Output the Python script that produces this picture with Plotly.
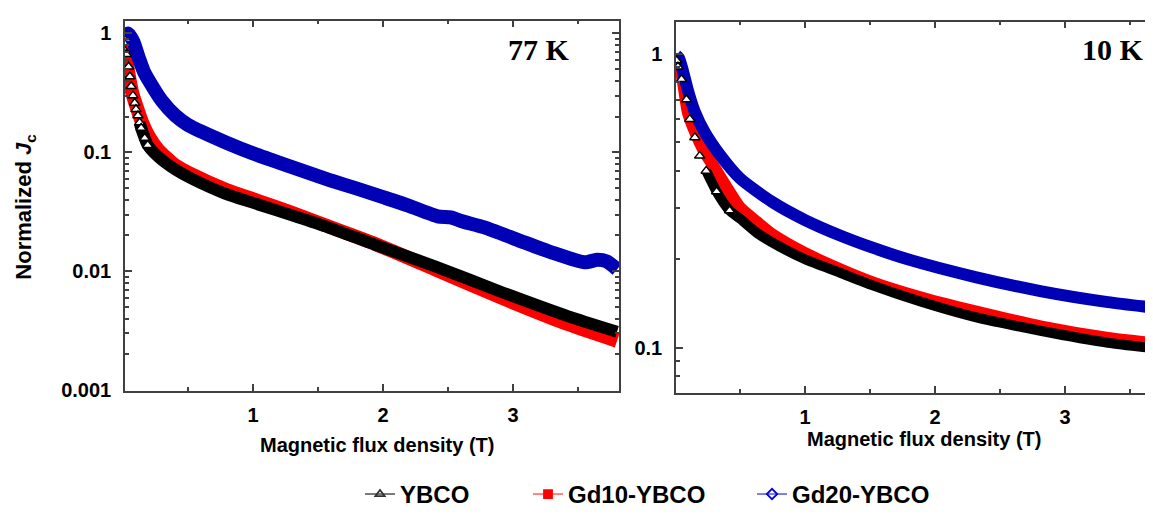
import plotly.graph_objects as go

# ---------------- data ----------------
# 77 K panel
x77_ybco = [0.012, 0.025, 0.043, 0.053, 0.063, 0.077, 0.09, 0.10, 0.115, 0.128, 0.14, 0.167, 0.19,
            0.27, 0.4, 0.53, 0.785, 1.04, 1.3, 1.55, 1.94, 2.4, 2.91, 3.42, 3.8]
jc77_ybco = [0.72, 0.67, 0.525, 0.435, 0.36, 0.30, 0.26, 0.23, 0.204, 0.178, 0.16, 0.132, 0.115,
             0.092, 0.072, 0.06, 0.045, 0.0365, 0.0295, 0.024, 0.0167, 0.011, 0.0067, 0.0042, 0.0031]

x77_gd10 = [0.012, 0.03, 0.05, 0.07, 0.1, 0.15, 0.2, 0.27, 0.4, 0.53, 0.8, 1.04, 1.3, 1.55, 1.94,
            2.4, 2.91, 3.42, 3.8]
jc77_gd10 = [0.8, 0.55, 0.41, 0.32, 0.25, 0.175, 0.135, 0.105, 0.078, 0.065, 0.048, 0.039, 0.031,
             0.0245, 0.017, 0.0104, 0.006, 0.0036, 0.0026]

x77_gd20 = [0.015, 0.04, 0.08, 0.12, 0.16, 0.2, 0.3, 0.4, 0.5, 0.6, 0.8, 1.0, 1.2, 1.4, 1.6, 1.8,
            2.0, 2.2, 2.42, 2.52, 2.6, 2.78, 3.04, 3.29, 3.55, 3.65, 3.72, 3.8]
jc77_gd20 = [0.93, 1.0, 0.85, 0.63, 0.48, 0.4, 0.27, 0.205, 0.17, 0.15, 0.12, 0.098, 0.082,
             0.069, 0.058, 0.0495, 0.042, 0.0355, 0.029, 0.0284, 0.0265, 0.0234, 0.0183, 0.0145,
             0.0119, 0.0125, 0.0121, 0.0104]

# 10 K panel
x10_ybco = [0.012, 0.023, 0.05, 0.088, 0.114, 0.153, 0.19, 0.24, 0.32, 0.42, 0.5, 0.63, 0.75, 1.0,
            1.27, 1.52, 1.9, 2.31, 2.82, 3.33, 3.74]
jc10_ybco = [0.95, 0.905, 0.82, 0.70, 0.60, 0.52, 0.45, 0.40, 0.34, 0.293, 0.275, 0.246, 0.228, 0.20,
             0.18, 0.163, 0.143, 0.127, 0.114, 0.104, 0.099]

x10_gd10 = [0.01, 0.03, 0.06, 0.1, 0.19, 0.24, 0.32, 0.4, 0.5, 0.63, 0.75, 1.0, 1.27, 1.52, 1.9,
            2.31, 2.82, 3.33, 3.74]
jc10_gd10 = [1.0, 0.93, 0.81, 0.63, 0.50, 0.454, 0.40, 0.35, 0.30, 0.268, 0.243, 0.21, 0.185,
             0.167, 0.148, 0.133, 0.118, 0.108, 0.103]

x10_gd20 = [0.01, 0.03, 0.06, 0.1, 0.15, 0.23, 0.34, 0.5, 0.75, 1.0, 1.27, 1.52, 1.79, 2.31, 2.82,
            3.33, 3.74]
jc10_gd20 = [0.99, 0.97, 0.88, 0.75, 0.64, 0.54, 0.457, 0.377, 0.313, 0.272, 0.241, 0.219, 0.2,
             0.174, 0.1556, 0.143, 0.136]

series_names = ["YBCO", "Gd10-YBCO", "Gd20-YBCO"]
x_tick_vals = [1, 2, 3]
x_tick_text = ["1", "2", "3"]
x_minor_vals = [0.5, 1.5, 2.5, 3.5]
y77_tick_vals = [0.001, 0.01, 0.1, 1]
y77_tick_text = ["0.001", "0.01", "0.1", "1"]
y10_tick_vals = [0.1, 1]
y10_tick_text = ["0.1", "1"]
y77_minor_vals = [k * d for d in (0.001, 0.01, 0.1) for k in range(2, 10)]
y10_minor_vals = [0.08, 0.09] + [k * 0.1 for k in range(2, 10)]

# ---------------- styling ----------------
BLUE = "#0000B4"
RED = "#FF0000"
BLACK = "#000000"
AXC = "#404040"
SANS = "Liberation Sans"

fig = go.Figure()


def add_panel(xa, ya, xk, yk, xr, yr, xb, yb, width, tri_max, line_min):
    # Gd10 (red)
    fig.add_trace(go.Scatter(x=xr, y=yr, mode="lines", xaxis=xa, yaxis=ya, showlegend=False,
                             line=dict(color=RED, width=width, shape="spline", smoothing=0.6),
                             hoverinfo="x+y"))
    # Gd20 (blue)
    fig.add_trace(go.Scatter(x=xb, y=yb, mode="lines", xaxis=xa, yaxis=ya, showlegend=False,
                             line=dict(color=BLUE, width=width, shape="spline", smoothing=0.6),
                             hoverinfo="x+y"))
    # YBCO (black) band
    lx = [x for x in xk if x >= line_min]
    ly = [y for x, y in zip(xk, yk) if x >= line_min]
    fig.add_trace(go.Scatter(x=lx, y=ly, mode="lines", xaxis=xa, yaxis=ya, showlegend=False,
                             line=dict(color=BLACK, width=width - 2, shape="spline", smoothing=0.6),
                             hoverinfo="x+y"))
    # YBCO open triangles in the steep low-field part
    mx = [x for x in xk if x <= tri_max]
    my = [y for x, y in zip(xk, yk) if x <= tri_max]
    fig.add_trace(go.Scatter(x=mx, y=my, mode="markers", xaxis=xa, yaxis=ya, showlegend=False,
                             marker=dict(symbol="triangle-up", size=9, color="white",
                                         line=dict(color=BLACK, width=1.5)),
                             hoverinfo="x+y"))


add_panel("x", "y", x77_ybco, jc77_ybco, x77_gd10, jc77_gd10, x77_gd20, jc77_gd20,
          14, 0.19, 0.128)
add_panel("x2", "y2", x10_ybco, jc10_ybco, x10_gd10, jc10_gd10, x10_gd20, jc10_gd20,
          12, 0.42, 0.24)

# legend-only entries (thin line + small marker, as in the reference legend)
leg_styles = [
    dict(color="#333333", symbol="triangle-up-open", mcolor="#333333", legend="legend"),
    dict(color="#FF4040", symbol="square", mcolor="#FF0000", legend="legend2"),
    dict(color="#3A3AE0", symbol="diamond-open", mcolor="#0000E0", legend="legend3"),
]
for name, st in zip(series_names, leg_styles):
    fig.add_trace(go.Scatter(x=[None], y=[None], mode="lines+markers", name=name,
                             legend=st["legend"],
                             line=dict(color=st["color"], width=1.3),
                             marker=dict(symbol=st["symbol"], size=8, color=st["mcolor"],
                                         line=dict(color=st["mcolor"], width=1.8)),
                             xaxis="x", yaxis="y"))

tickfont = dict(family=SANS, size=20, color="black", weight="bold")

xcommon = dict(showline=True, linecolor=AXC, linewidth=1.5, mirror="ticks",
               ticks="inside", ticklen=7, tickwidth=1.5, tickcolor=AXC,
               tickmode="array", tickvals=x_tick_vals, ticktext=x_tick_text,
               tickfont=tickfont, showgrid=False, zeroline=False, ticklabelstandoff=6,
               minor=dict(ticks="inside", ticklen=4, tickwidth=1.5, tickcolor=AXC,
                          tickmode="array", tickvals=x_minor_vals, showgrid=False))
ycommon = dict(type="log", showline=True, linecolor=AXC, linewidth=1.5,
               ticks="inside", ticklen=7, tickwidth=1.5, tickcolor=AXC,
               tickmode="array", tickfont=tickfont, showgrid=False, zeroline=False,
               ticklabelstandoff=8)

leg_font = dict(family=SANS, size=24, color="black", weight="bold")
leg_common = dict(orientation="h", y=20 / 517, yanchor="middle", xanchor="left",
                  font=leg_font, bgcolor="rgba(0,0,0,0)", borderwidth=0)

fig.update_layout(
    width=1153, height=517,
    margin=dict(l=0, r=0, t=0, b=0),
    paper_bgcolor="white", plot_bgcolor="white",
    font=dict(family=SANS, color="black"),
    xaxis=dict(domain=[117 / 1153, 611 / 1153], range=[0.0154, 3.815], anchor="y", **xcommon),
    yaxis=dict(domain=[126 / 517, 504 / 517], range=[-3.004, 0.107], anchor="x",
               mirror="ticks", tickvals=y77_tick_vals, ticktext=y77_tick_text,
               minor=dict(ticks="inside", ticklen=4, tickwidth=1.5, tickcolor=AXC,
                          tickmode="array", tickvals=y77_minor_vals, showgrid=False),
               **ycommon),
    xaxis2=dict(domain=[668 / 1153, 1.0], range=[0.0077, 3.738], anchor="y2", **xcommon),
    yaxis2=dict(domain=[124 / 517, 503 / 517], range=[-1.153, 0.11], anchor="x2",
                mirror=False, tickvals=y10_tick_vals, ticktext=y10_tick_text,
                minor=dict(ticks="inside", ticklen=4, tickwidth=1.5, tickcolor=AXC,
                           tickmode="array", tickvals=y10_minor_vals, showgrid=False),
                **ycommon),
    legend=dict(x=352 / 1153, **leg_common),
    legend2=dict(x=520 / 1153, **leg_common),
    legend3=dict(x=744 / 1153, **leg_common),
    showlegend=True,
)

ann_font = dict(family=SANS, size=20, color="black", weight="bold")
fig.add_annotation(text="Magnetic flux density (T)", xref="paper", yref="paper",
                   x=369 / 1153, y=(517 - 447) / 517, showarrow=False, font=ann_font,
                   xanchor="center", yanchor="middle")
fig.add_annotation(text="Magnetic flux density (T)", xref="paper", yref="paper",
                   x=916 / 1153, y=(517 - 440) / 517, showarrow=False, font=ann_font,
                   xanchor="center", yanchor="middle")
fig.add_annotation(text="Normalized <i>J</i><sub>c</sub>", xref="paper", yref="paper",
                   x=17 / 1153, y=(517 - 203) / 517, showarrow=False,
                   font=dict(family=SANS, size=22, color="black", weight="bold"),
                   textangle=-90, xanchor="center", yanchor="middle")
lab_font = dict(family="Liberation Serif", size=30, color="black", weight="bold")
fig.add_annotation(text="77 K", xref="paper", yref="paper", x=531 / 1153, y=(517 - 42) / 517,
                   showarrow=False, font=lab_font, xanchor="center", yanchor="middle")
fig.add_annotation(text="10 K", xref="paper", yref="paper", x=1105 / 1153, y=(517 - 42) / 517,
                   showarrow=False, font=lab_font, xanchor="center", yanchor="middle")

fig.write_html("out.html")
